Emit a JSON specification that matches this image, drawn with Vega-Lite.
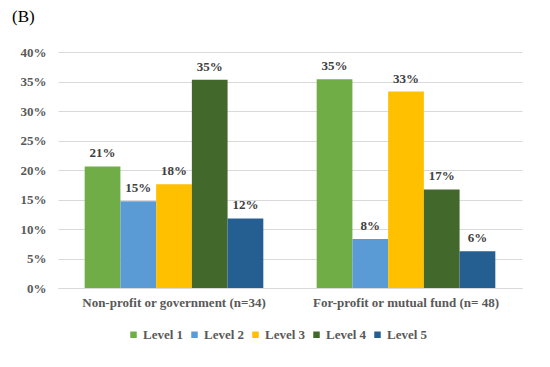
{
  "$schema": "https://vega.github.io/schema/vega-lite/v6.json",
  "width": 464,
  "height": 236,
  "padding": {"left": 12, "top": 8, "right": 10, "bottom": 5},
  "background": "white",
  "title": {"text": "(B)", "anchor": "start", "frame": "bounds", "dx": -8, "font": "Liberation Serif", "fontSize": 17, "fontWeight": "normal", "color": "#000000", "offset": 20},
  "config": {
    "view": {"stroke": null},
    "font": "Liberation Serif"
  },
  "data": {"values": [
    {"group": "Non-profit or government (n=34)", "level": "Level 1", "value": 0.206},
    {"group": "Non-profit or government (n=34)", "level": "Level 2", "value": 0.147},
    {"group": "Non-profit or government (n=34)", "level": "Level 3", "value": 0.176},
    {"group": "Non-profit or government (n=34)", "level": "Level 4", "value": 0.353},
    {"group": "Non-profit or government (n=34)", "level": "Level 5", "value": 0.118},
    {"group": "For-profit or mutual fund (n= 48)", "level": "Level 1", "value": 0.354},
    {"group": "For-profit or mutual fund (n= 48)", "level": "Level 2", "value": 0.083},
    {"group": "For-profit or mutual fund (n= 48)", "level": "Level 3", "value": 0.333},
    {"group": "For-profit or mutual fund (n= 48)", "level": "Level 4", "value": 0.167},
    {"group": "For-profit or mutual fund (n= 48)", "level": "Level 5", "value": 0.0625}
  ]},
  "encoding": {
    "x": {
      "field": "group", "type": "nominal",
      "sort": ["Non-profit or government (n=34)", "For-profit or mutual fund (n= 48)"],
      "scale": {"paddingInner": 0.23, "paddingOuter": 0.115},
      "axis": {"title": null, "labelAngle": 0, "labelLimit": 0, "ticks": false, "domain": true, "domainColor": "#D9D9D9", "labelFont": "Liberation Serif", "labelFontSize": 13, "labelFontWeight": "bold", "labelColor": "#595959", "labelPadding": 8}
    },
    "xOffset": {"field": "level", "type": "nominal", "scale": {"paddingInner": 0, "paddingOuter": 0}},
    "y": {
      "field": "value", "type": "quantitative",
      "scale": {"domain": [0, 0.4]},
      "axis": {"title": null, "format": ".0%", "values": [0, 0.05, 0.1, 0.15, 0.2, 0.25, 0.3, 0.35, 0.4], "ticks": false, "domain": false, "gridColor": "#D9D9D9", "labelFont": "Liberation Serif", "labelFontSize": 13, "labelFontWeight": "bold", "labelColor": "#595959", "labelPadding": 12}
    }
  },
  "layer": [
    {
      "mark": {"type": "bar"},
      "encoding": {
        "color": {
          "field": "level", "type": "nominal",
          "scale": {"domain": ["Level 1", "Level 2", "Level 3", "Level 4", "Level 5"], "range": ["#70AD47", "#5B9BD5", "#FFC000", "#43682B", "#255E91"]},
          "legend": {"title": null, "orient": "none", "legendX": 69, "legendY": 276, "direction": "horizontal", "symbolType": "square", "symbolSize": 42, "symbolStrokeWidth": 0, "labelFont": "Liberation Serif", "labelFontSize": 13, "labelFontWeight": "bold", "labelColor": "#595959", "columnPadding": 4, "labelOffset": 3}
        }
      }
    },
    {
      "mark": {"type": "text", "baseline": "bottom", "dy": -6, "font": "Liberation Serif", "fontSize": 13, "fontWeight": "bold", "color": "#404040"},
      "encoding": {"text": {"field": "value", "type": "quantitative", "format": ".0%"}}
    }
  ]
}
